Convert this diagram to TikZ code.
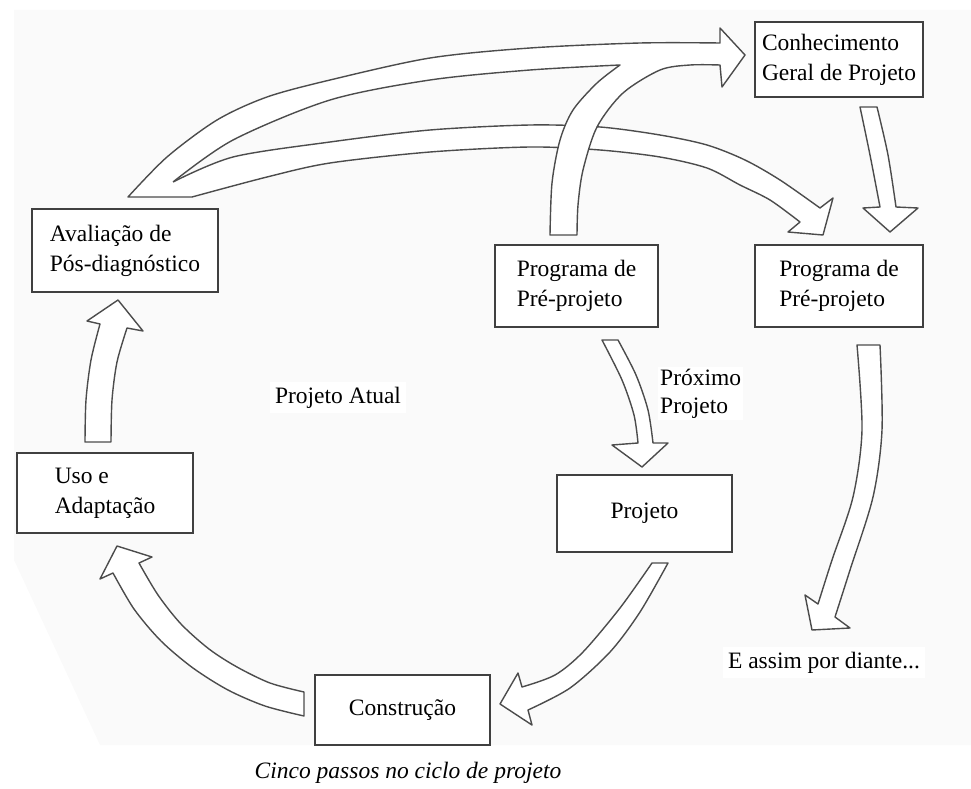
\documentclass[tikz,border=0pt]{standalone}
\usepackage{fontspec}
\setmainfont{Liberation Serif}
\newcommand\dfont{\fontsize{23.5}{30}\selectfont}
\begin{document}
\begin{tikzpicture}[x=1pt,y=-1pt,
  box/.style={draw=black!75, line width=1.6pt, fill=white, inner sep=0pt, font=\dfont, align=left},
  hol/.style={draw=black!70, line width=1.4pt, line join=round},
  lbl/.style={font=\dfont, inner sep=5pt, fill=white}]
\useasboundingbox (0,0) rectangle (971,789);
\fill[gray!4] (14,10) -- (971,10) -- (971,745) -- (100,745) -- (14,560) -- cycle;

% boxes
\node[box, minimum width=168pt, minimum height=75pt] (conh) at (839,59.5) {Conhecimento\\Geral de Projeto};
\node[box, minimum width=186pt, minimum height=83pt] (aval) at (125,250.5) {Avaliação de\\Pós-diagnóstico};
\node[box, minimum width=163pt, minimum height=82pt] (prog1) at (576.5,286) {Programa de\\Pré-projeto};
\node[box, minimum width=168pt, minimum height=82pt] (prog2) at (839,286) {Programa de\\Pré-projeto};
\node[box, minimum width=176pt, minimum height=80pt] (uso) at (105,493) {Uso e\\Adaptação};
\node[box, minimum width=175pt, minimum height=77pt] (proj) at (644.5,513.5) {Projeto};
\node[box, minimum width=175pt, minimum height=70pt] (constr) at (402.5,710) {Construção};

% lower big arrow (to second Programa box)
\def\lowerA{plot[smooth] coordinates {(173,182)(233,157)(330,142)(430,130)(530,125)(600,127)(660,135)(707,145)(745,160)(780,180)(820,208)} -- (833,198) -- (823,235) -- (788,232) -- plot[smooth] coordinates {(800,222)(770,200)(740,185)(707,168)(660,157)(600,150)(530,147)(430,152)(330,163)(267,177)(192,197)}}
\fill[white] \lowerA -- (150,197) -- cycle;
\draw[hol] \lowerA;

% top big arrow merged with the arrow rising from the first Programa box
\def\topA{plot[smooth] coordinates {(173,182)(233,140)(330,100)(430,80)(530,70)(620,65)} -- plot[smooth] coordinates {(620,65)(597,83)(573,110)(560,140)(552,183)(550,235)} -- (577,235) -- plot[smooth] coordinates {(577,235)(578,205)(583,170)(597,127)(623,93)(660,70)(690,65)(720,65)} -- (722,87) -- (745,55) -- (720,28) -- plot[smooth] coordinates {(720,43)(640,43)(530,48)(430,58)(330,80)(267,97)(217,120)(167,157)(128,197)} -- (192,197)}
\fill[white] \topA -- cycle;
\draw[hol] \topA;

% Conhecimento -> Programa (right)
\draw[hol, fill=white] plot[smooth] coordinates {(860,107)(870,155)(880,207)} -- (863,208) -- (890,232) -- (918,208) -- plot[smooth] coordinates {(896,207)(888,155)(877,107)} -- cycle;

% Programa -> Projeto
\draw[hol, fill=white] plot[smooth] coordinates {(602,340)(622,380)(634,415)(638,443)} -- (612,445) -- (642,467) -- (668,443) -- plot[smooth] coordinates {(653,443)(648,410)(636,375)(618,340)} -- cycle;

% Uso -> Avaliacao
\draw[hol, fill=white] plot[smooth] coordinates {(85,442)(86,400)(91,360)(100,324)} -- (87,321) -- (118,300) -- (143,331) -- plot[smooth] coordinates {(127,328)(117,362)(112,400)(111,442)} -- cycle;

% Construcao -> Uso
\draw[hol, fill=white] plot[smooth] coordinates {(304,716)(265,706)(228,690)(193,668)(161,641)(134,609)(113,573)} -- (100,579) -- (117,546) -- (152,557) -- plot[smooth] coordinates {(139,563)(158,595)(181,624)(209,649)(237,667)(270,683)(304,692)} -- cycle;

% Projeto -> Construcao
\draw[hol, fill=white] plot[smooth] coordinates {(652,563)(620,608)(583,652)(555,675)(522,687)} -- (518,673) -- (500,704) -- (532,725) -- plot[smooth] coordinates {(528,710)(570,688)(610,652)(640,612)(668,563)} -- cycle;

% Programa (right) -> E assim
\draw[hol, fill=white] plot[smooth] coordinates {(857,345)(862,430)(853,497)(832,560)(818,604)} -- (805,595) -- (812,630) -- (850,628) -- plot[smooth] coordinates {(835,617)(850,570)(873,497)(882,430)(880,345)} -- cycle;

% labels
\node[lbl, anchor=base] (atual) at (338,403) {Projeto Atual};
\node[lbl, anchor=base west, align=left, inner sep=2pt, font=\fontsize{23.5}{28}\selectfont] (prox) at (658,413) {Próximo\\Projeto};
\node[lbl, anchor=base] (assim) at (824,668) {E assim por diante...};
\node[font=\dfont\itshape, anchor=base, inner sep=2pt] (cap) at (408,778) {Cinco passos no ciclo de projeto};
\end{tikzpicture}
\end{document}
